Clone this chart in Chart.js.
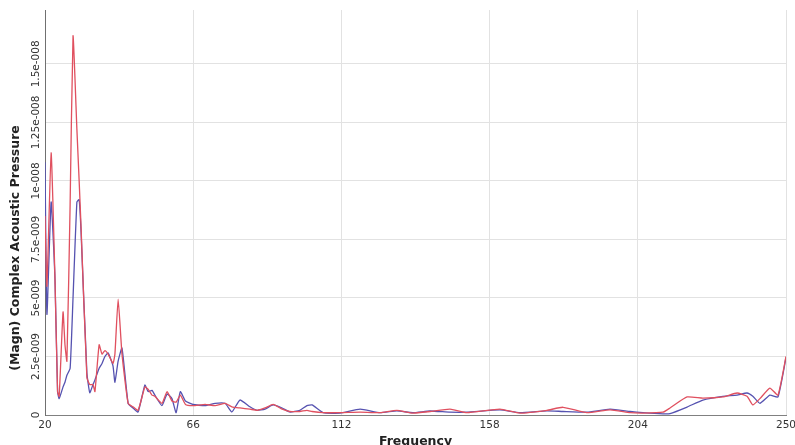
<!DOCTYPE html>
<html><head><meta charset="utf-8">
<script src="https://cdn.jsdelivr.net/npm/chart.js@4"></script>
<style>html,body{margin:0;padding:0;background:#fff}#wrap{width:795px;height:445px}</style>
</head><body><div id="wrap"><canvas id="c" width="795" height="445"></canvas></div>
<script>
// Frequencies (Hz) shared by both series
const frequencies = [20, 20.6, 21.9, 23.1, 23.9, 24.4, 25.6, 26.2, 26.8, 27.8, 28.7, 29.9, 30.6, 31.2, 33.0, 33.9, 34.9, 35.5, 36.8, 37.7, 38.6, 39.6, 41.1, 41.7, 42.7, 43.9, 45.8, 47.3, 48.9, 51.0, 52.0, 53.2, 54.1, 56.3, 57.9, 59.4, 60.7, 62.0, 63.6, 65.9, 69.7, 72.8, 75.9, 78.0, 80.5, 83.6, 85.8, 88.3, 90.8, 93.6, 96.0, 99.1, 101.3, 102.9, 106.3, 111.6, 117.8, 124.0, 129.2, 134.2, 139.5, 145.7, 151.0, 161.2, 167.4, 175.8, 180.8, 188.2, 195.4, 201.6, 205.6, 211.8, 214.0, 219.3, 224.2, 230.4, 234.8, 237.9, 239.7, 241.9, 245.0, 247.5, 250];
// Magnitudes in units of 1e-9
const seriesRed = [8.5, 5.5, 11.2, 5.8, 1.0, 0.8, 4.4, 3.0, 2.3, 9.0, 16.2, 12.2, 10.0, 8.0, 1.6, 1.3, 1.3, 1.0, 3.0, 2.6, 2.75, 2.6, 2.2, 2.6, 4.95, 2.6, 0.5, 0.35, 0.2, 1.2, 1.1, 0.85, 0.8, 0.5, 1.0, 0.6, 0.55, 0.85, 0.45, 0.4, 0.45, 0.4, 0.5, 0.35, 0.3, 0.25, 0.2, 0.3, 0.45, 0.25, 0.15, 0.15, 0.2, 0.15, 0.1, 0.1, 0.12, 0.1, 0.2, 0.08, 0.15, 0.25, 0.1, 0.25, 0.08, 0.2, 0.33, 0.1, 0.22, 0.1, 0.08, 0.12, 0.3, 0.77, 0.72, 0.77, 0.94, 0.8, 0.43, 0.7, 1.15, 0.85, 2.5];
const seriesBlue = [10.8, 4.3, 9.1, 5.8, 1.0, 0.7, 1.2, 1.4, 1.7, 2.0, 5.0, 9.1, 9.2, 7.8, 1.8, 0.95, 1.3, 1.5, 2.0, 2.2, 2.5, 2.65, 2.1, 1.4, 2.3, 2.86, 0.5, 0.3, 0.13, 1.28, 1.0, 1.05, 0.85, 0.4, 0.9, 0.7, 0.1, 1.0, 0.6, 0.45, 0.4, 0.5, 0.5, 0.13, 0.64, 0.35, 0.2, 0.25, 0.43, 0.3, 0.13, 0.2, 0.4, 0.43, 0.1, 0.08, 0.25, 0.1, 0.18, 0.1, 0.17, 0.12, 0.12, 0.22, 0.1, 0.18, 0.15, 0.12, 0.25, 0.15, 0.1, 0.05, 0.06, 0.34, 0.64, 0.8, 0.85, 0.94, 0.8, 0.5, 0.85, 0.77, 2.45];
const VALUE_UNIT = 1e-9;
const xTickValues = [20, 66, 112, 158, 204, 250];
const yTickValues = [0, 2.5e-9, 5e-9, 7.5e-9, 1e-8, 1.25e-8, 1.5e-8];
const Y_MAX = 1.73e-8;
const X_TITLE = 'Frequency';
const Y_TITLE = '(Magn) Complex Acoustic Pressure';

function sci(v) {
  if (v === 0) return '0';
  const e = Math.floor(Math.log10(v) + 1e-9);
  const m = +(v / Math.pow(10, e)).toPrecision(3);
  return m + 'e' + (e < 0 ? '-' : '+') + String(Math.abs(e)).padStart(3, '0');
}
const toPoints = arr => frequencies.map((f, i) => ({x: f, y: arr[i] * VALUE_UNIT}));

const yTitlePlugin = {
  id: 'yTitle',
  afterDraw(chart) {
    const ctx = chart.ctx;
    ctx.save();
    ctx.translate(16, 248);
    ctx.rotate(-Math.PI / 2);
    ctx.font = 'bold 12.5px "DejaVu Sans"';
    ctx.fillStyle = '#222';
    ctx.textAlign = 'center';
    ctx.textBaseline = 'middle';
    ctx.fillText(Y_TITLE, 0, 0);
    ctx.restore();
  }
};

new Chart(document.getElementById('c'), {
  type: 'line',
  data: {
    datasets: [
      {label: 'Red', data: toPoints(seriesRed), borderColor: '#e0505f', borderWidth: 1.3, pointRadius: 0, tension: 0.15, fill: false},
      {label: 'Blue', data: toPoints(seriesBlue), borderColor: '#5552b0', borderWidth: 1.3, pointRadius: 0, tension: 0.15, fill: false}
    ]
  },
  plugins: [yTitlePlugin],
  options: {
    responsive: false,
    animation: false,
    layout: {padding: {top: 10, right: 9, left: 0, bottom: 0}},
    plugins: {legend: {display: false}, tooltip: {enabled: false}},
    scales: {
      x: {
        type: 'linear', min: 20, max: 250,
        afterBuildTicks: s => { s.ticks = xTickValues.map(v => ({value: v})); },
        afterFit: s => { s.height = 30; s.paddingRight = 0; s.paddingLeft = 0; },
        grid: {color: '#e2e2e2', drawTicks: false},
        border: {color: '#808080'},
        ticks: {padding: 4, autoSkip: false, maxRotation: 0, color: '#333', font: {family: 'DejaVu Sans', size: 10.5}, callback: v => String(v)},
        title: {display: true, text: X_TITLE, color: '#222', font: {family: 'DejaVu Sans', size: 12.5, weight: 'bold'}, padding: {top: 0, bottom: -4}}
      },
      y: {
        type: 'linear', min: 0, max: Y_MAX,
        afterBuildTicks: s => { s.ticks = yTickValues.map(v => ({value: v})); },
        afterFit: s => { s.width = 45; },
        grid: {color: '#e2e2e2', drawTicks: false},
        border: {color: '#707070'},
        ticks: {minRotation: 90, maxRotation: 90, crossAlign: 'center', padding: -18, color: '#333', font: {family: 'DejaVu Sans', size: 10.5}, callback: v => sci(v)}
      }
    }
  }
});
</script></body></html>
